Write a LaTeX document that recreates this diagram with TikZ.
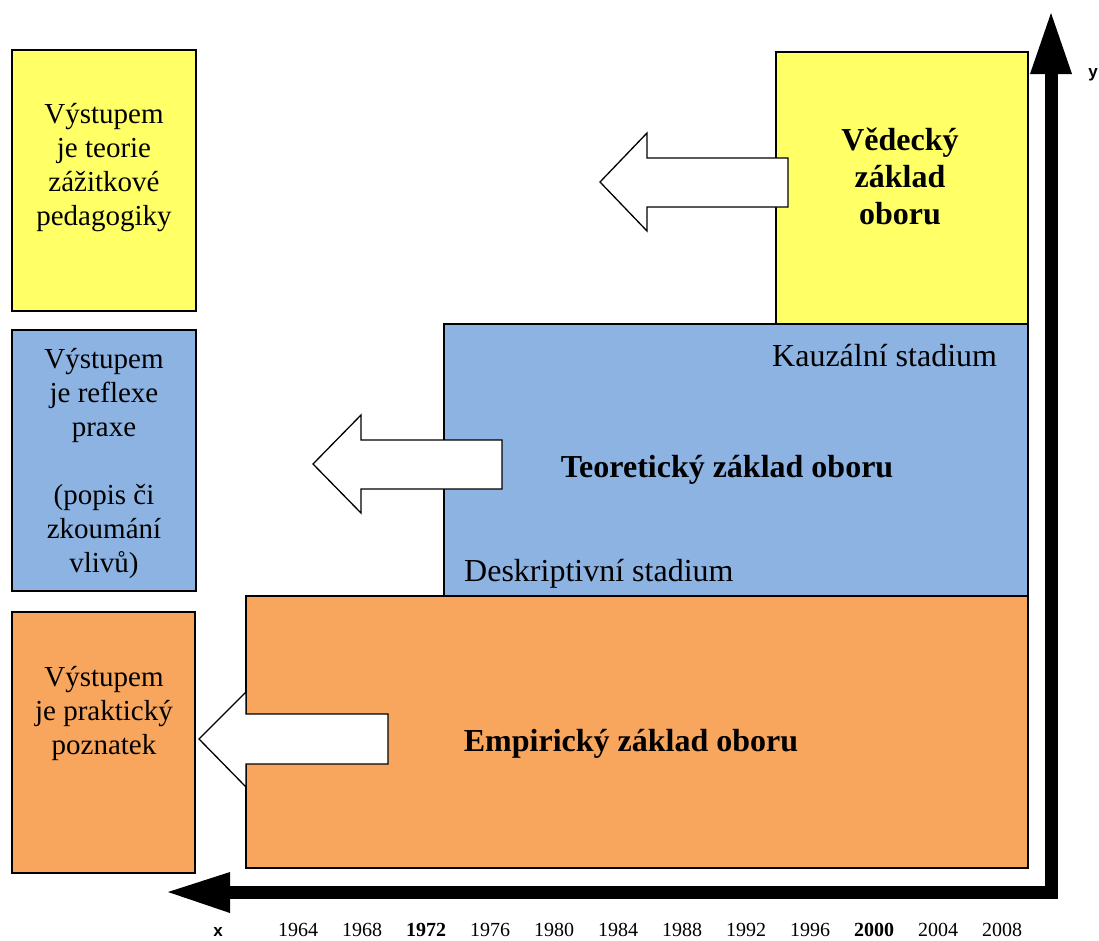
\documentclass[tikz,border=0pt]{standalone}
\usepackage{fontspec}
\setmainfont{Liberation Serif}
\newfontfamily\axisfont{Liberation Sans}
\definecolor{cyel}{HTML}{FFFF66}
\definecolor{cblu}{HTML}{8DB3E2}
\definecolor{corg}{HTML}{F8A55E}
\begin{document}
\begin{tikzpicture}[x=1pt,y=-1pt,
  box/.style={draw=black,line width=1.3pt},
  outarrow/.style={draw=black,fill=white,line width=1.3pt,line join=miter},
  sidetext/.style={font=\fontsize{29}{34}\selectfont,align=center,inner sep=0pt},
  bigtext/.style={font=\fontsize{32}{37}\selectfont\bfseries,align=center,inner sep=0pt},
  stagetext/.style={font=\fontsize{32}{37}\selectfont,inner sep=0pt,anchor=base west},
  yearlabel/.style={font=\fontsize{20}{24}\selectfont,inner sep=0pt,anchor=base},
  axislabel/.style={font=\fontsize{17}{20}\selectfont\axisfont\bfseries,inner sep=0pt,anchor=base}]
\useasboundingbox (0,0) rectangle (1099,940);

% left boxes
\path[box,fill=cyel] (12,50) rectangle (196,311);
\path[box,fill=cblu] (12,330) rectangle (196,591);
\path[box,fill=corg] (12,612) rectangle (195,873);

% main blocks
\path[box,fill=corg] (246,596) rectangle (1028,868);
\path[box,fill=cblu] (444,324) rectangle (1028,596);
\path[box,fill=cyel] (776,52) rectangle (1028,324);

% block arrows
\draw[outarrow] (600,182) -- (647,133) -- (647,158) -- (788,158) -- (788,207) -- (647,207) -- (647,231) -- cycle;
\draw[outarrow] (313,464) -- (361,415) -- (361,440) -- (502,440) -- (502,489) -- (361,489) -- (361,513) -- cycle;
\draw[outarrow] (199,739) -- (246,692) -- (246,714) -- (388,714) -- (388,764) -- (246,764) -- (246,787) -- cycle;

% axes
\draw[line width=13pt,line join=miter] (229,892) -- (1051,892) -- (1051,73);
\fill (1051,13) -- (1072,74) -- (1030,74) -- cycle;
\fill (168,892) -- (230,872) -- (230,913) -- cycle;

% texts
\node[sidetext] (t1) at (104,168) {Výstupem\\je teorie\\zážitkové\\pedagogiky};
\node[sidetext] (t2) at (104,463) {Výstupem\\je reflexe\\praxe\\[34pt](popis či\\zkoumání\\vlivů)};
\node[sidetext] (t3) at (104,713) {Výstupem\\je praktický\\poznatek};

\node[bigtext] (vz) at (900,176) {Vědecký\\základ\\oboru};
\node[bigtext,anchor=base] (tz) at (727,477) {Teoretický základ oboru};
\node[bigtext,anchor=base] (ez) at (631,751) {Empirický základ oboru};
\node[stagetext] (ks) at (772,366) {Kauzální stadium};
\node[stagetext] (ds) at (464,581) {Deskriptivní stadium};

\node[axislabel] (xl) at (218,936) {x};
\node[axislabel] (yl) at (1093,77) {y};

\node[yearlabel] (y1964) at (298,936) {1964};
\node[yearlabel] (y1968) at (362,936) {1968};
\node[yearlabel] (y1972) at (426,936) {\bfseries 1972};
\node[yearlabel] (y1976) at (490,936) {1976};
\node[yearlabel] (y1980) at (554,936) {1980};
\node[yearlabel] (y1984) at (618,936) {1984};
\node[yearlabel] (y1988) at (682,936) {1988};
\node[yearlabel] (y1992) at (746,936) {1992};
\node[yearlabel] (y1996) at (810,936) {1996};
\node[yearlabel] (y2000) at (874,936) {\bfseries 2000};
\node[yearlabel] (y2004) at (938,936) {2004};
\node[yearlabel] (y2008) at (1002,936) {2008};
\end{tikzpicture}
\end{document}
